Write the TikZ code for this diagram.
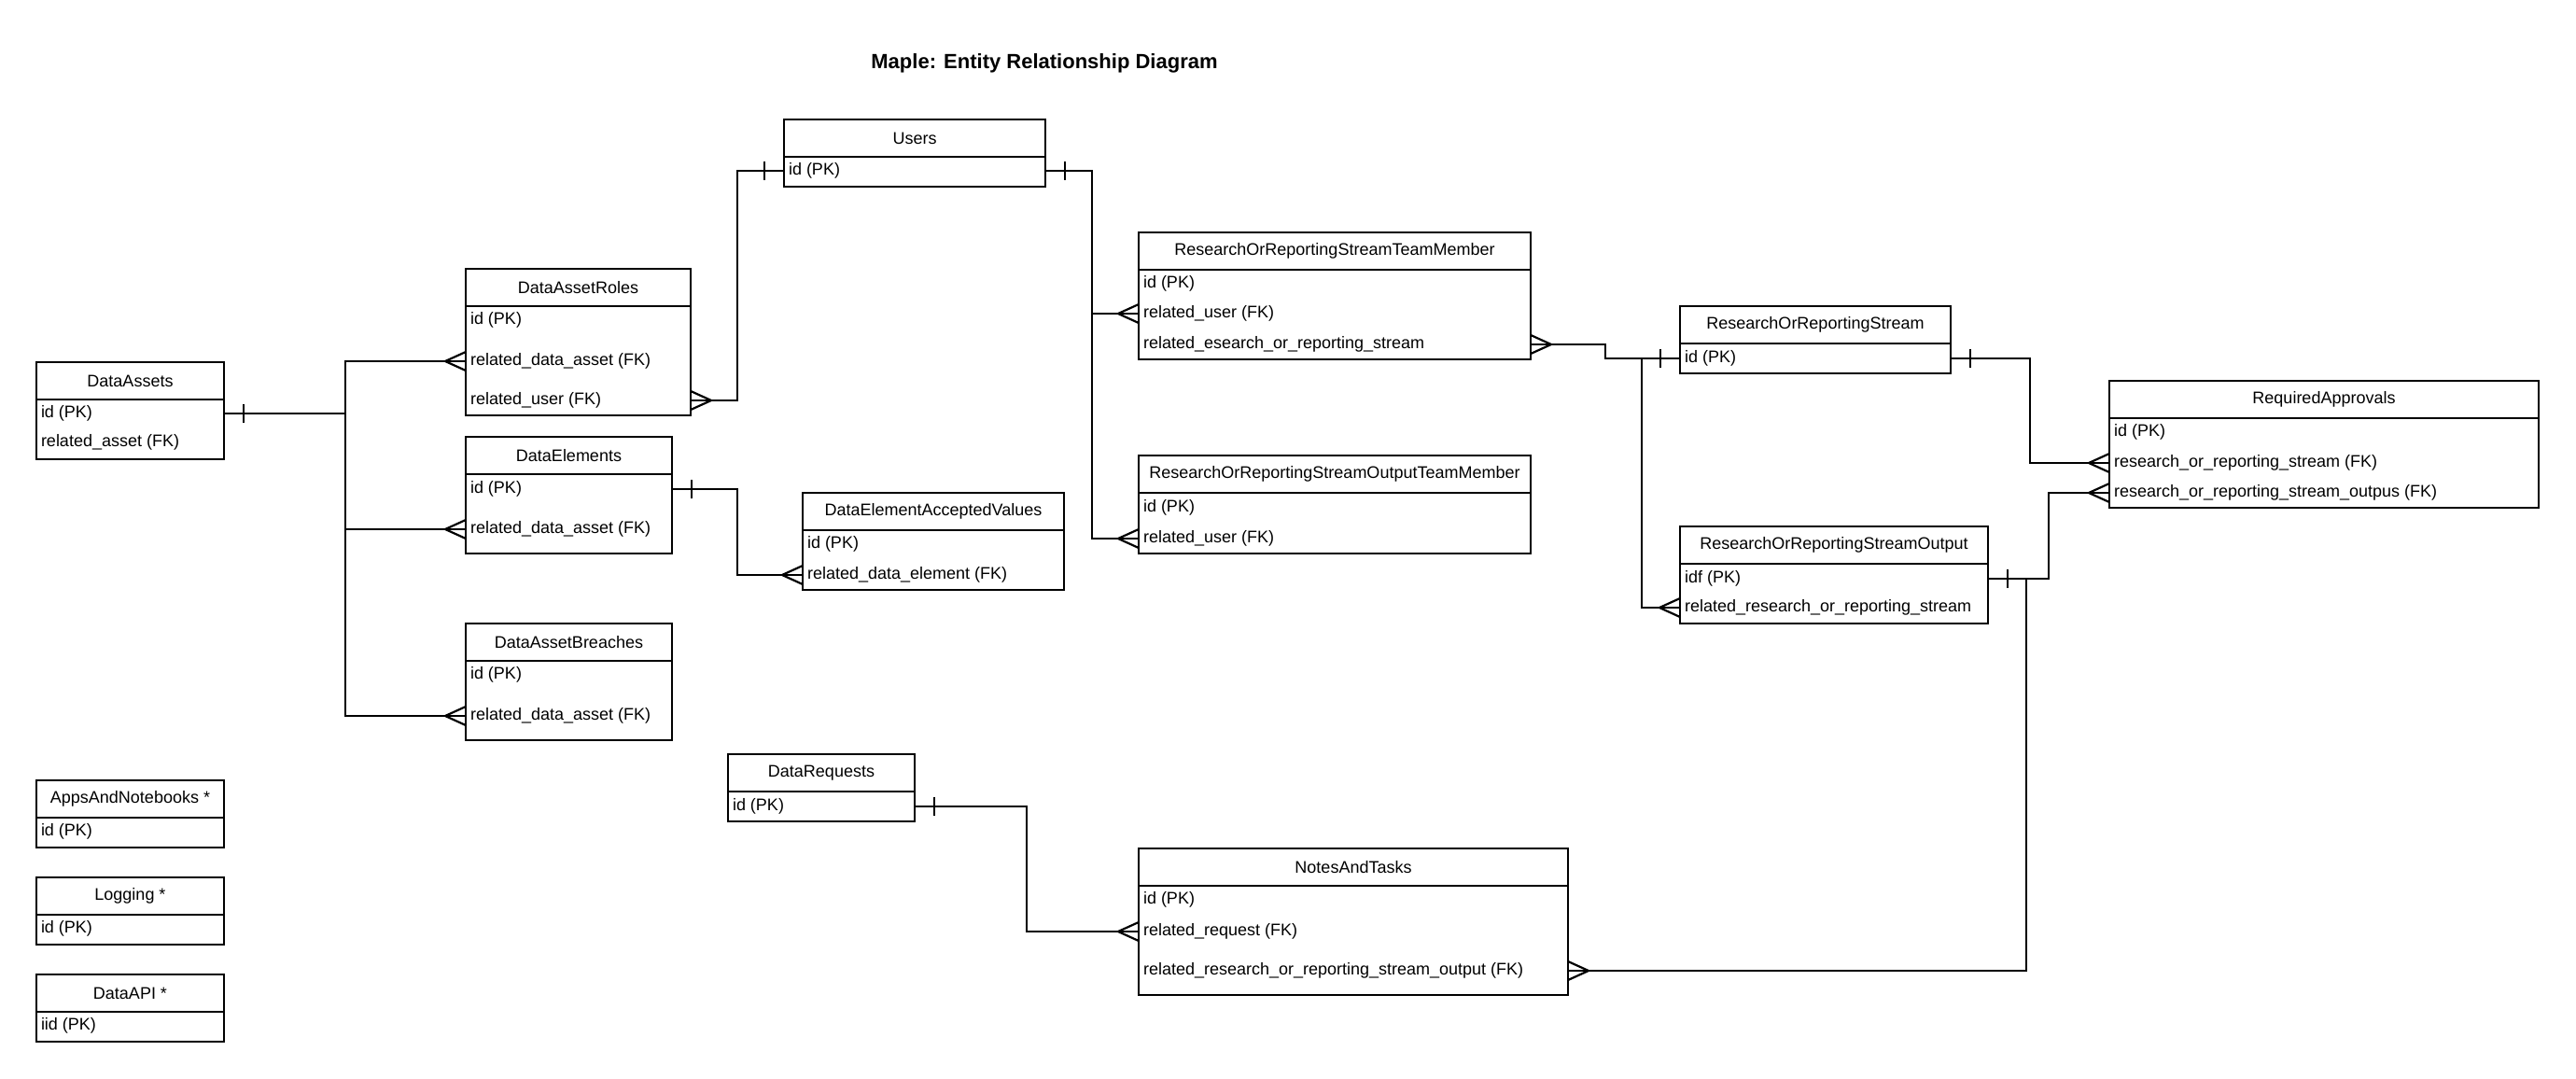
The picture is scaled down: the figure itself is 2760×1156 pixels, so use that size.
\documentclass[tikz,border=0pt]{standalone}
\usepackage{fontspec}
\setmainfont{Liberation Sans}
\begin{document}
\begin{tikzpicture}[x=1pt, y=-1pt,
        title/.style={inner sep=0pt, font=\bfseries\fontsize{22pt}{26pt}\selectfont},
        head/.style={draw, line width=2.8pt, anchor=north west, minimum height=40pt, inner sep=0pt, outer sep=0pt, font=\fontsize{18pt}{22pt}\selectfont},
        body/.style={draw, line width=2.8pt, anchor=north west, inner sep=0pt, outer sep=0pt},
        field/.style={anchor=west, inner xsep=5pt, inner ysep=0pt, outer sep=0pt, text height=13pt, text depth=4pt, font=\fontsize{18pt}{22pt}\selectfont},
        conn/.style={line width=2.2pt},
        oneE/.pic={\draw[conn] (21,-10) -- (21,10);},
        oneW/.pic={\draw[conn] (-21,-10) -- (-21,10);},
        manyE/.pic={\draw[conn] (0,-10) -- (22,0) -- (0,10);},
        manyW/.pic={\draw[conn] (0,-10) -- (-22,0) -- (0,10);}]
        \path[use as bounding box, fill=white] (0,0) rectangle (2760,1156);
        \node[title] (title) at (1119,68) {Maple: Entity Relationship Diagram};
        \node[head, minimum width=201pt] (da) at (39,388) {DataAssets};
        \node[body, minimum width=201pt, minimum height=64pt] (da-b) at (da.south west) {};
        \node[field] (da-id) at (39,443) {id (PK)};
        \node[field] (da-ra) at (39,474) {related\_asset (FK)};
        \node[head, minimum width=241pt] (dar) at (499,288) {DataAssetRoles};
        \node[body, minimum width=241pt, minimum height=117pt] (dar-b) at (dar.south west) {};
        \node[field] (dar-id) at (499,343) {id (PK)};
        \node[field] (dar-rda) at (499,387) {related\_data\_asset (FK)};
        \node[field] (dar-ru) at (499,429) {related\_user (FK)};
        \node[head, minimum width=280pt] (users) at (840,128) {Users};
        \node[body, minimum width=280pt, minimum height=32pt] (users-b) at (users.south west) {};
        \node[field] (users-id) at (840,183) {id (PK)};
        \node[head, minimum width=221pt] (de) at (499,468) {DataElements};
        \node[body, minimum width=221pt, minimum height=85pt] (de-b) at (de.south west) {};
        \node[field] (de-id) at (499,524) {id (PK)};
        \node[field] (de-rda) at (499,567) {related\_data\_asset (FK)};
        \node[head, minimum width=280pt] (deav) at (860,528) {DataElementAcceptedValues};
        \node[body, minimum width=280pt, minimum height=64pt] (deav-b) at (deav.south west) {};
        \node[field] (deav-id) at (860,583) {id (PK)};
        \node[field] (deav-rde) at (860,616) {related\_data\_element (FK)};
        \node[head, minimum width=221pt] (dab) at (499,668) {DataAssetBreaches};
        \node[body, minimum width=221pt, minimum height=85pt] (dab-b) at (dab.south west) {};
        \node[field] (dab-id) at (499,723) {id (PK)};
        \node[field] (dab-rda) at (499,767) {related\_data\_asset (FK)};
        \node[head, minimum width=201pt] (apps) at (39,836) {AppsAndNotebooks *};
        \node[body, minimum width=201pt, minimum height=32pt] (apps-b) at (apps.south west) {};
        \node[field] (apps-id) at (39,891) {id (PK)};
        \node[head, minimum width=201pt] (logging) at (39,940) {Logging *};
        \node[body, minimum width=201pt, minimum height=32pt] (logging-b) at (logging.south west) {};
        \node[field] (logging-id) at (39,995) {id (PK)};
        \node[head, minimum width=201pt] (dataapi) at (39,1044) {DataAPI *};
        \node[body, minimum width=201pt, minimum height=32pt] (dataapi-b) at (dataapi.south west) {};
        \node[field] (dataapi-id) at (39,1099) {iid (PK)};
        \node[head, minimum width=200pt] (dreq) at (780,808) {DataRequests};
        \node[body, minimum width=200pt, minimum height=32pt] (dreq-b) at (dreq.south west) {};
        \node[field] (dreq-id) at (780,864) {id (PK)};
        \node[head, minimum width=420pt] (tm) at (1220,249) {ResearchOrReportingStreamTeamMember};
        \node[body, minimum width=420pt, minimum height=96pt] (tm-b) at (tm.south west) {};
        \node[field] (tm-id) at (1220,304) {id (PK)};
        \node[field] (tm-ru) at (1220,336) {related\_user (FK)};
        \node[field] (tm-res) at (1220,369) {related\_esearch\_or\_reporting\_stream};
        \node[head, minimum width=420pt] (otm) at (1220,488) {ResearchOrReportingStreamOutputTeamMember};
        \node[body, minimum width=420pt, minimum height=65pt] (otm-b) at (otm.south west) {};
        \node[field] (otm-id) at (1220,544) {id (PK)};
        \node[field] (otm-ru) at (1220,577) {related\_user (FK)};
        \node[head, minimum width=290pt] (rors) at (1800,328) {ResearchOrReportingStream};
        \node[body, minimum width=290pt, minimum height=32pt] (rors-b) at (rors.south west) {};
        \node[field] (rors-id) at (1800,384) {id (PK)};
        \node[head, minimum width=330pt] (rorso) at (1800,564) {ResearchOrReportingStreamOutput};
        \node[body, minimum width=330pt, minimum height=64pt] (rorso-b) at (rorso.south west) {};
        \node[field] (rorso-idf) at (1800,620) {idf (PK)};
        \node[field] (rorso-rr) at (1800,651) {related\_research\_or\_reporting\_stream};
        \node[head, minimum width=460pt] (ra) at (2260,408) {RequiredApprovals};
        \node[body, minimum width=460pt, minimum height=96pt] (ra-b) at (ra.south west) {};
        \node[field] (ra-id) at (2260,463) {id (PK)};
        \node[field] (ra-rors) at (2260,496) {research\_or\_reporting\_stream (FK)};
        \node[field] (ra-out) at (2260,528) {research\_or\_reporting\_stream\_outpus (FK)};
        \node[head, minimum width=460pt] (nt) at (1220,909) {NotesAndTasks};
        \node[body, minimum width=460pt, minimum height=117pt] (nt-b) at (nt.south west) {};
        \node[field] (nt-id) at (1220,964) {id (PK)};
        \node[field] (nt-rr) at (1220,998) {related\_request (FK)};
        \node[field] (nt-rrors) at (1220,1040) {related\_research\_or\_reporting\_stream\_output (FK)};
        \draw[conn] (da-id -| da-b.east) pic{oneE} -- ++(130,0) |- (dar-rda -| dar-b.west) pic{manyW};
        \draw[conn] (da-id -| da-b.east) -- ++(130,0) |- (de-rda -| de-b.west) pic{manyW};
        \draw[conn] (da-id -| da-b.east) -- ++(130,0) |- (dab-rda -| dab-b.west) pic{manyW};
        \draw[conn] (dar-ru -| dar-b.east) pic{manyE} -- ++(50,0) |- (users-id -| users-b.west) pic{oneW};
        \draw[conn] (de-id -| de-b.east) pic{oneE} -- ++(70,0) |- (deav-rde -| deav-b.west) pic{manyW};
        \draw[conn] (users-id -| users-b.east) pic{oneE} -- ++(50,0) |- (tm-ru -| tm-b.west) pic{manyW};
        \draw[conn] (users-id -| users-b.east) -- ++(50,0) |- (otm-ru -| otm-b.west) pic{manyW};
        \draw[conn] (tm-res -| tm-b.east) pic{manyE} -- ++(80,0) |- (rors-id -| rors-b.west) pic{oneW};
        \draw[conn] (rors-id -| rors-b.west) -- ++(-41,0) |- (rorso-rr -| rorso-b.west) pic{manyW};
        \draw[conn] (rors-id -| rors-b.east) pic{oneE} -- ++(85,0) |- (ra-rors -| ra-b.west) pic{manyW};
        \draw[conn] (rorso-idf -| rorso-b.east) pic{oneE} -- ++(65,0) |- (ra-out -| ra-b.west) pic{manyW};
        \draw[conn] (rorso-idf -| rorso-b.east) -- ++(41,0) |- (nt-rrors -| nt-b.east) pic{manyE};
        \draw[conn] (dreq-id -| dreq-b.east) pic{oneE} -- ++(120,0) |- (nt-rr -| nt-b.west) pic{manyW};
\end{tikzpicture}
\end{document}
